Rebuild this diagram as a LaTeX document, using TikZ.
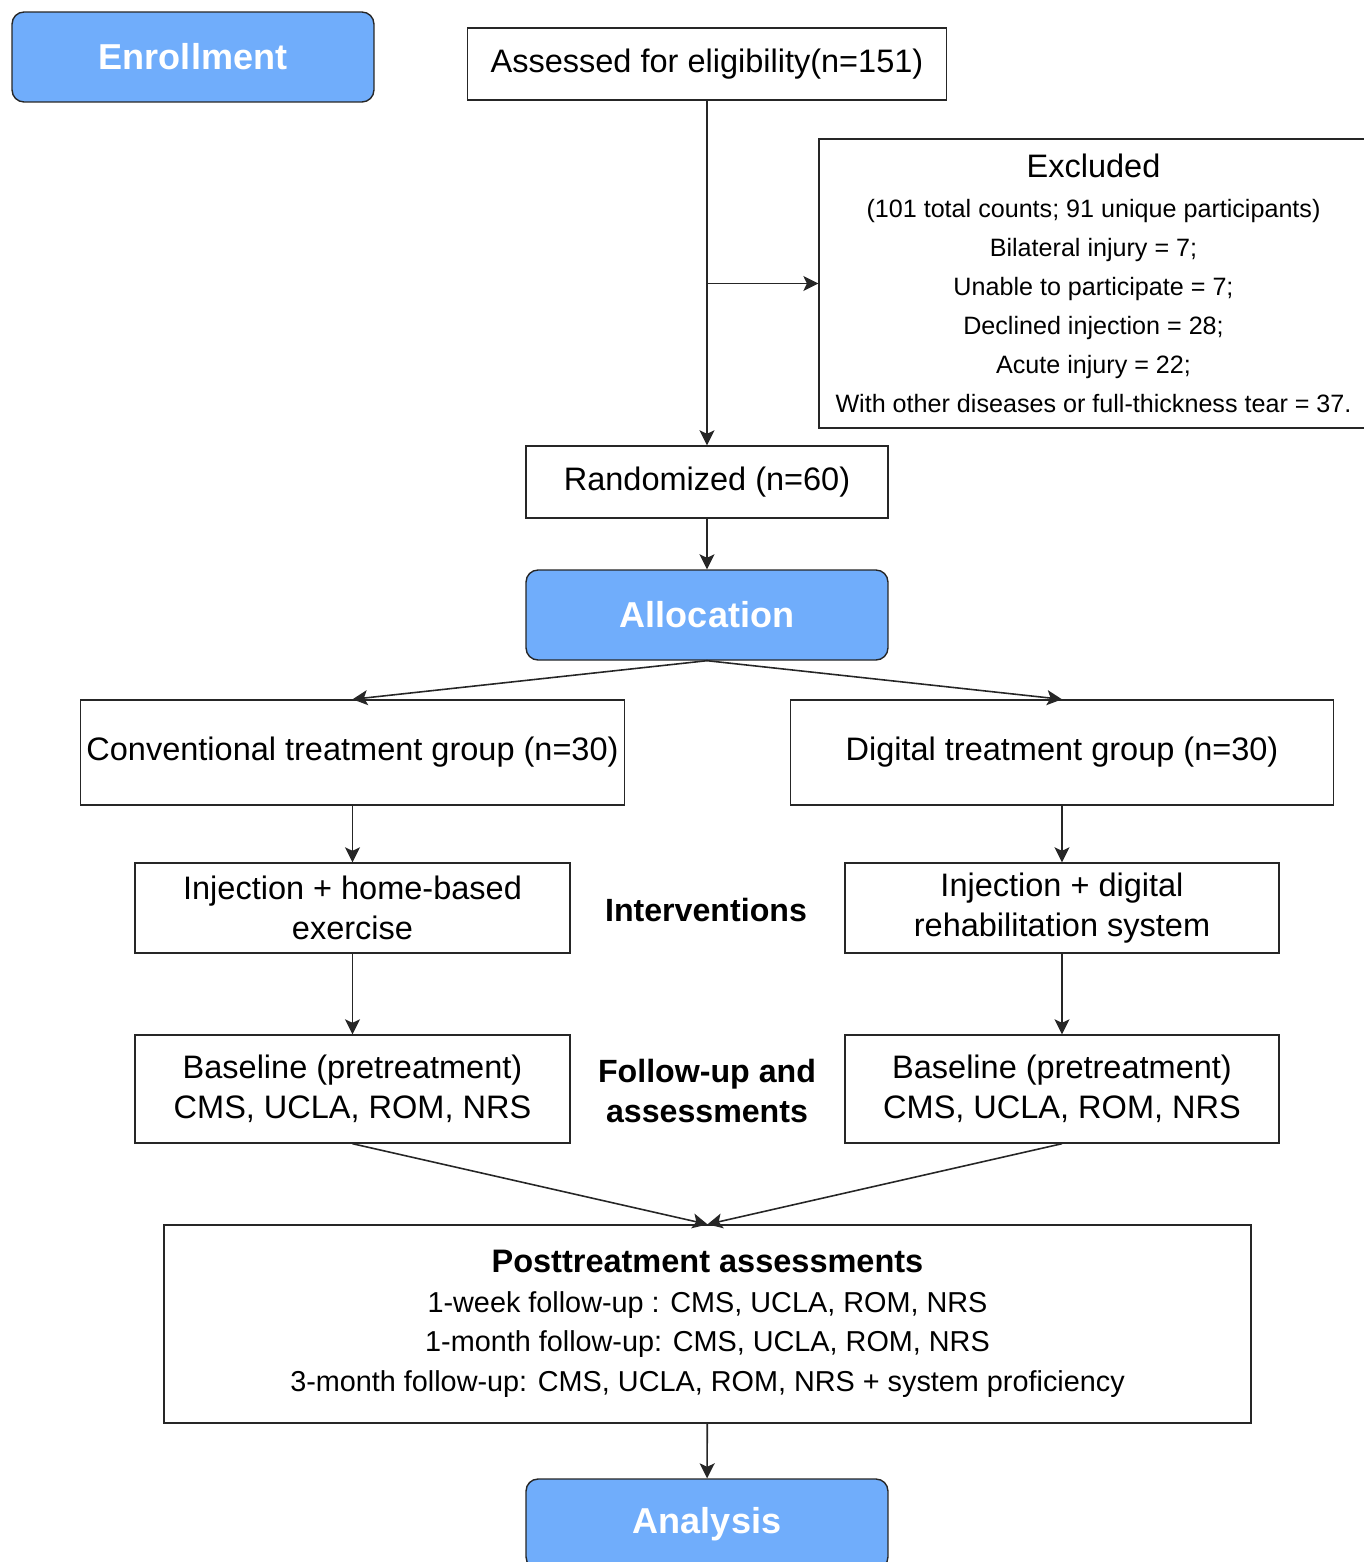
\documentclass[tikz,border=0pt]{standalone}
\usepackage{fontspec}
\setmainfont{Liberation Sans}
\usetikzlibrary{positioning}
\usetikzlibrary{arrows.meta}
\definecolor{stageblue}{HTML}{70ADFB}

\begin{document}
\begin{tikzpicture}[x=0.02cm,y=-0.02cm,
  box/.style={draw=black!85,line width=0.8pt,fill=white,inner sep=0pt,align=center,font=\fontsize{18.5}{22.8}\selectfont},
  stage/.style={draw=black!85,line width=0.8pt,fill=stageblue,rounded corners=0.24cm,inner sep=0pt,text=white,font=\fontsize{20.5}{24}\selectfont\bfseries},
  sidelabel/.style={align=center,font=\fontsize{18.3}{22.8}\selectfont\bfseries},
  arr/.style={-{Stealth[length=3mm,width=3mm,inset=0.7mm]},line width=0.9pt,draw=black!85}]
\useasboundingbox (0,0) rectangle (1364,1562);

% stages
\node[stage,minimum width=7.24cm,minimum height=1.8cm] (enroll) at (193,57) {Enrollment};
\node[stage,minimum width=7.24cm,minimum height=1.8cm] (alloc) at (707,615) {Allocation};
\node[stage,minimum width=7.24cm,minimum height=1.8cm] (analysis) at (707,1524) {Analysis};

% enrollment
\node[box,minimum width=9.58cm,minimum height=1.44cm] (assess) at (707,64) {Assessed for eligibility(n=151)};
\node[box,font=\fontsize{14.3}{22.2}\selectfont,minimum width=10.98cm,minimum height=5.78cm] (excl) at (1093.5,283.5)
  {{\fontsize{18.5}{22.2}\selectfont Excluded}\\[0.8pt]
   (101 total counts; 91 unique participants)\\
   Bilateral injury = 7;\\
   Unable to participate = 7;\\
   Declined injection = 28;\\
   Acute injury = 22;\\
   With other diseases or full-thickness tear = 37.};
\node[box,minimum width=7.24cm,minimum height=1.44cm] (random) at (707,482) {Randomized (n=60)};

% groups
\node[box,minimum width=10.88cm,minimum height=2.1cm] (conv) at (352.5,752.5) {Conventional treatment group (n=30)};
\node[box,minimum width=10.86cm,minimum height=2.1cm] (digit) at (1062,752.5) {Digital treatment group (n=30)};
\node[box,minimum width=8.7cm,minimum height=1.8cm] (injconv) at (352.5,908) {Injection + home-based\\exercise};
\node[box,minimum width=8.68cm,minimum height=1.8cm] (injdigit) at (1062,908) {Injection + digital\\rehabilitation system};
\node[sidelabel] (interv) at (706,910) {Interventions};
\node[box,minimum width=8.7cm,minimum height=2.16cm] (baseconv) at (352.5,1089) {Baseline (pretreatment)\\CMS, UCLA, ROM, NRS};
\node[box,minimum width=8.68cm,minimum height=2.16cm] (basedigit) at (1062,1089) {Baseline (pretreatment)\\CMS, UCLA, ROM, NRS};
\node[sidelabel] (follow) at (707,1091) {Follow-up and\\assessments};
\node[box,font=\fontsize{16.4}{22.5}\selectfont,minimum width=21.74cm,minimum height=3.96cm] (post) at (707.5,1324)
  {{\fontsize{18.5}{22.5}\selectfont\bfseries Posttreatment assessments}\\
   1-week follow-up : CMS, UCLA, ROM, NRS\\
   1-month follow-up: CMS, UCLA, ROM, NRS\\
   3-month follow-up: CMS, UCLA, ROM, NRS + system proficiency};

% connectors
\coordinate (split) at (assess.south |- excl.west);
\draw[arr] (assess.south) -- (random.north);
\draw[arr] (split) -- (excl.west);
\draw[arr] (random) -- (alloc);
\draw[arr] (alloc.south) -- (conv.north);
\draw[arr] (alloc.south) -- (digit.north);
\draw[arr] (conv) -- (injconv);
\draw[arr] (digit) -- (injdigit);
\draw[arr] (injconv) -- (baseconv);
\draw[arr] (injdigit) -- (basedigit);
\draw[arr] (baseconv.south) -- (post.north);
\draw[arr] (basedigit.south) -- (post.north);
\draw[arr] (post) -- (analysis);

\end{tikzpicture}
\end{document}
